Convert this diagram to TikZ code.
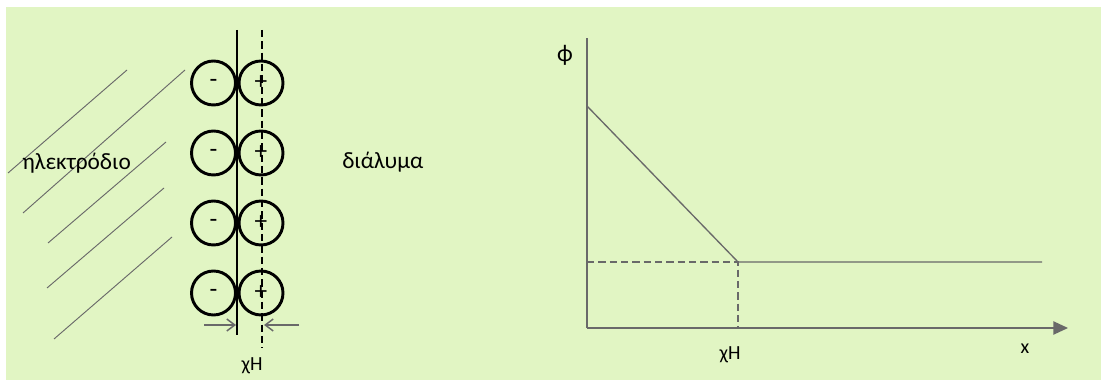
\documentclass[tikz,border=0pt]{standalone}
\usepackage{fontspec}
\setmainfont{Carlito}
\usetikzlibrary{arrows.meta}
\definecolor{bg}{RGB}{225,245,195}
\definecolor{ln}{RGB}{105,105,105}
\begin{document}
\begin{tikzpicture}[x=0.75pt,y=-0.75pt,
  ion/.style={circle,draw=black,line width=2.2pt,minimum size=33pt,inner sep=0pt,
    font=\fontsize{19}{21}\selectfont},
  hatch/.style={draw=ln,line width=0.7pt},
  lbl/.style={font=\fontsize{17.5}{20}\selectfont,inner sep=0pt},
  small/.style={font=\fontsize{15}{17}\selectfont,inner sep=0pt},
  axis/.style={draw=ln,line width=1pt},
  dashline/.style={line width=0.9pt,dash pattern=on 5.5pt off 3pt},
  gapmark/.style={draw=ln,line width=1.1pt,-{Straight Barb[length=6pt,width=9pt]}}
]
\useasboundingbox (0,0) rectangle (1101,381);
\fill[bg] (6,7) rectangle (1101,380);

% hatching of the electrode
\coordinate (h1a) at (8,173);   \coordinate (h1b) at (127,70);
\coordinate (h2a) at (23,213);  \coordinate (h2b) at (185,70);
\coordinate (h3a) at (48,243);  \coordinate (h3b) at (166,142);
\coordinate (h4a) at (47,288);  \coordinate (h4b) at (164,188);
\coordinate (h5a) at (54,339);  \coordinate (h5b) at (172,237);
\draw[hatch] (h1a) -- (h1b);
\draw[hatch] (h2a) -- (h2b);
\draw[hatch] (h3a) -- (h3b);
\draw[hatch] (h4a) -- (h4b);
\draw[hatch] (h5a) -- (h5b);

% planes
\coordinate (s1) at (237,30);  \coordinate (s2) at (237,335);
\coordinate (d1) at (262,30);  \coordinate (d2) at (262,348);
\draw[black,line width=1.3pt] (s1) -- (s2);
\draw[black,dashline] (d1) -- (d2);

% ions
\foreach \i/\y in {1/83,2/153,3/223,4/293}{
  \node[ion] (m\i) at (213.5,\y) {-};
  \node[ion] (p\i) at (261,\y) {+};
}

% xH gap markers
\coordinate (la) at (204,325); \coordinate (lb) at (236,325);
\coordinate (ra) at (299,325); \coordinate (rb) at (264,325);
\draw[gapmark] (la) -- (lb);
\draw[gapmark] (ra) -- (rb);
\node[small] (xh1) at (252,366) {χΗ};

\node[lbl,anchor=west] (el) at (22,163) {ηλεκτρόδιο};
\node[lbl,anchor=west] (sol) at (342,162) {διάλυμα};

% graph
\coordinate (O) at (587,328);
\coordinate (ytop) at (587,38);
\coordinate (xend) at (1068,328);
\coordinate (p0) at (587,106);
\coordinate (pk) at (738,262);
\coordinate (pe) at (1042,262);
\coordinate (py) at (587,262);
\coordinate (px) at (738,328);
\draw[axis] (O) -- (ytop);
\draw[axis,-{Triangle[length=11pt,width=10pt]}] (O) -- (xend);
\draw[axis] (p0) -- (pk) -- (pe);
\draw[ln,dashline] (py) -- (pk) -- (px);
\node[font=\fontsize{18}{20}\selectfont,inner sep=0pt] (phi) at (565,55) {ϕ};
\node[small] (xh2) at (730,355) {χΗ};
\node[small] (xl) at (1025,349) {x};
\end{tikzpicture}
\end{document}
